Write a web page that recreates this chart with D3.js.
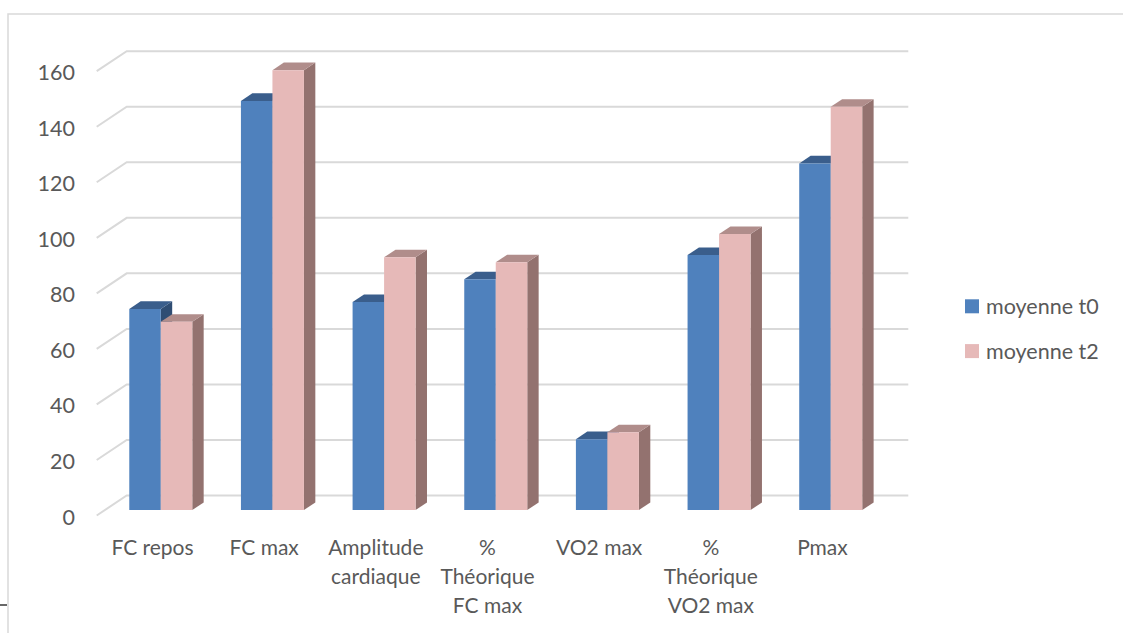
<!DOCTYPE html>
<html>
<head>
<meta charset="utf-8">
<script src="https://cdn.jsdelivr.net/npm/d3@7"></script>
<style>
  html, body { margin: 0; padding: 0; background: #fff; }
  svg { display: block; }
  text { font-family: Lato, "Open Sans", sans-serif; fill: #595959; }
</style>
</head>
<body>
<svg id="chart" width="1123" height="633"></svg>
<script>
const categories = ["FC repos", "FC max", "Amplitude cardiaque", "% Théorique FC max", "VO2 max", "% Théorique VO2 max", "Pmax"];
const categoryLines = [["FC repos"], ["FC max"], ["Amplitude", "cardiaque"], ["%", "Théorique", "FC max"], ["VO2 max"], ["%", "Théorique", "VO2 max"], ["Pmax"]];
const seriesNames = ["moyenne t0", "moyenne t2"];
const valuesT0 = [72.4, 147.3, 74.9, 83.1, 25.5, 91.8, 124.8];
const valuesT2 = [67.8, 158.4, 91.0, 89.2, 28.0, 99.4, 145.2];
const yTicks = [0, 20, 40, 60, 80, 100, 120, 140, 160];

const svg = d3.select("#chart");

// chart area border
svg.append("path").attr("d", "M8,633 L8,14 L1123,14")
  .attr("fill", "none").attr("stroke", "#d9d9d9").attr("stroke-width", 1.5);
svg.append("line").attr("x1", 0).attr("x2", 7).attr("y1", 605).attr("y2", 605)
  .attr("stroke", "#000").attr("stroke-width", 1.2);

// 3D projection params
const DX = 30, DY = 20;          // full floor depth offset
const x = d3.scaleBand().domain(categories).range([96.7, 878.3]);
const y = d3.scaleLinear().domain([0, 160]).range([515.5, 71.2]);
const P = (xf, v, d) => [xf + DX * d, y(v) - DY * d];

// gridlines: side wall diagonal + back wall line
const grid = svg.append("g");
yTicks.forEach(v => {
  const a = P(x.range()[0], v, 0), b = P(x.range()[0], v, 1), c = P(x.range()[1], v, 1);
  grid.append("path")
    .attr("d", `M${a[0]},${a[1]} L${b[0]},${b[1]} L${c[0]},${c[1]}`)
    .attr("fill", "none").attr("stroke", "#d9d9d9").attr("stroke-width", 2);
});

// y labels
svg.append("g").selectAll("text").data(yTicks).join("text")
  .attr("x", 75).attr("y", d => y(d) + 1)
  .attr("text-anchor", "end").attr("dominant-baseline", "central")
  .style("font-size", "21.5px")
  .text(d => d);

// bars
const barW = 31.5;
const d0 = 0.275, dd = 0.38;
const inner = d3.scaleBand().domain(seriesNames).range([0, barW * 2]);
const colors = {
  "moyenne t0": { front: "#4f81bd", top: "#3a5e8c", side: "#2f4d73" },
  "moyenne t2": { front: "#e6b9b8", top: "#b08d8b", side: "#93726f" }
};
const series = [valuesT0, valuesT2];
const bars = svg.append("g");
categories.forEach((cat, i) => {
  const off = (x.bandwidth() - barW * 2) / 2;
  seriesNames.forEach((s, j) => {
    const v = series[j][i];
    const xl = x(cat) + off + inner(s);
    const xr = xl + inner.bandwidth();
    const fbl = P(xl, 0, d0), ftl = P(xl, v, d0), ftr = P(xr, v, d0), fbr = P(xr, 0, d0);
    const btl = P(xl, v, d0 + dd), btr = P(xr, v, d0 + dd), bbr = P(xr, 0, d0 + dd);
    const c = colors[s];
    const pt = p => p.join(",");
    bars.append("polygon").attr("points", [ftr, btr, bbr, fbr].map(pt).join(" ")).attr("fill", c.side);
    bars.append("polygon").attr("points", [ftl, btl, btr, ftr].map(pt).join(" ")).attr("fill", c.top);
    bars.append("polygon").attr("points", [fbl, ftl, ftr, fbr].map(pt).join(" ")).attr("fill", c.front);
  });
});

// x labels
const xl = svg.append("g");
categories.forEach((cat, i) => {
  const t = xl.append("text")
    .attr("x", x(cat) + x.bandwidth() / 2)
    .attr("y", 555)
    .attr("text-anchor", "middle")
    .style("font-size", "21px");
  categoryLines[i].forEach((line, k) => {
    t.append("tspan").attr("x", x(cat) + x.bandwidth() / 2).attr("y", 555 + k * 29).text(line);
  });
});

// legend
const lg = svg.append("g");
seriesNames.forEach((s, j) => {
  lg.append("rect").attr("x", 965).attr("y", 299.3 + j * 44.8).attr("width", 14).attr("height", 14)
    .attr("fill", colors[s].front);
  lg.append("text").attr("x", 986).attr("y", 306.3 + j * 44.8)
    .attr("dominant-baseline", "central").style("font-size", "21.5px").text(s);
});
</script>
</body>
</html>
